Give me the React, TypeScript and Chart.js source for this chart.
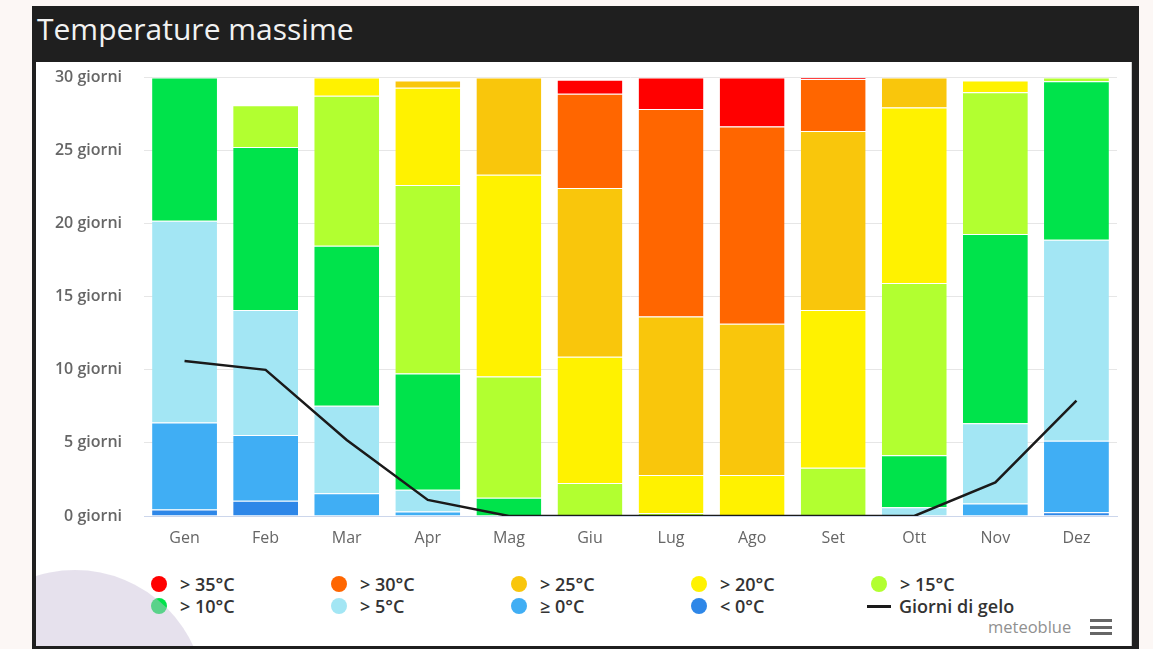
import React, { useEffect, useRef } from "react";
import { Chart, registerables } from "chart.js";

Chart.register(...registerables);

// ---- data ----
const months = ["Gen", "Feb", "Mar", "Apr", "Mag", "Giu", "Lug", "Ago", "Set", "Ott", "Nov", "Dez"];
const yMax = 30;
const yStep = 5;
const yUnit = "giorni";

const gt35 = [0, 0, 0, 0, 0, 0.95, 2.15, 3.35, 0.1, 0, 0, 0];
const gt30 = [0, 0, 0, 0, 0, 6.45, 14.2, 13.5, 3.55, 0, 0, 0];
const gt25 = [0, 0, 0, 0.5, 6.65, 11.55, 10.85, 10.35, 12.25, 2.05, 0, 0];
const gt20 = [0, 0, 1.25, 6.65, 13.8, 8.65, 2.6, 2.8, 10.8, 12.0, 0.8, 0];
const gt15 = [0, 2.85, 10.25, 12.9, 8.3, 2.25, 0.2, 0, 3.3, 11.8, 9.7, 0.25];
const gt10 = [9.8, 11.15, 10.95, 7.95, 1.25, 0, 0, 0, 0, 3.55, 12.95, 10.85];
const gt5 = [13.8, 8.55, 6.0, 1.5, 0, 0, 0, 0, 0, 0.6, 5.5, 13.75];
const ge0 = [5.95, 4.5, 1.55, 0.3, 0, 0, 0, 0, 0, 0, 0.85, 4.9];
const lt0 = [0.45, 1.05, 0, 0, 0, 0, 0, 0, 0, 0, 0, 0.25];
const frostDays = [10.6, 10.0, 5.2, 1.1, 0, 0, 0, 0, 0, 0, 2.3, 7.9];

const bandLabels = ["> 35°C", "> 30°C", "> 25°C", "> 20°C", "> 15°C", "> 10°C", "> 5°C", "≥ 0°C", "< 0°C"];
const bandColors = ["#ff0000", "#ff6600", "#f9c60c", "#fff200", "#b2ff30", "#00e34b", "#a3e6f4", "#40aef4", "#2e87e8"];
const bandData = [gt35, gt30, gt25, gt20, gt15, gt10, gt5, ge0, lt0];
const frostLabel = "Giorni di gelo";
const frostColor = "#1a1a1a";

const FONT = "'Open Sans', 'Noto Sans', sans-serif";

export default function App() {
  const canvasRef = useRef<HTMLCanvasElement | null>(null);

  useEffect(() => {
    const canvas = canvasRef.current;
    if (!canvas) return;
    const barSets = bandLabels
      .map((label, i) => ({
        type: "bar" as const,
        label,
        data: bandData[i],
        backgroundColor: bandColors[i],
        borderColor: "#ffffff",
        borderWidth: { top: 1, left: 0, right: 0, bottom: 0 },
        stack: "bands",
        order: 1,
        categoryPercentage: 1,
        barPercentage: 0.8,
      }))
      .reverse();
    const chart = new Chart(canvas, {
      type: "bar",
      data: {
        labels: months,
        datasets: [
          ...barSets,
          {
            type: "line" as const,
            label: frostLabel,
            data: frostDays,
            borderColor: frostColor,
            backgroundColor: frostColor,
            borderWidth: 2.5,
            pointRadius: 0,
            tension: 0,
            stack: "frost",
            order: 0,
          } as any,
        ],
      },
      options: {
        responsive: false,
        animation: false,
        maintainAspectRatio: false,
        layout: { padding: { top: 14, right: 15, left: 0, bottom: 0 } },
        plugins: { legend: { display: false }, tooltip: { enabled: false }, title: { display: false } },
        scales: {
          x: {
            stacked: true,
            grid: { display: false, drawTicks: false },
            border: { display: true, color: "#ccd6eb", width: 1 },
            ticks: { color: "#666666", font: { family: FONT, size: 16 }, padding: 13 },
            afterFit: (s: any) => {
              s.height = 46;
            },
          },
          y: {
            stacked: true,
            min: 0,
            max: yMax,
            grid: {
              color: (c: any) => (c.tick && c.tick.value === 0 ? "#ccd6eb" : "#e6e6e6"),
              lineWidth: 1,
              drawTicks: false,
            },
            border: { display: false },
            ticks: {
              stepSize: yStep,
              color: "#666666",
              font: { family: FONT, size: 16, weight: "600" },
              padding: 22,
              callback: (v: any) => `${v} ${yUnit}`,
            },
            afterFit: (s: any) => {
              s.width = 108;
            },
          },
        },
      },
    } as any);
    return () => chart.destroy();
  }, []);

  const legendItems = [
    ...bandLabels.map((l, i) => ({ label: l, color: bandColors[i], line: false })),
    { label: frostLabel, color: frostColor, line: true },
  ];

  return (
    <div style={{ position: "fixed", left: 0, top: 0, width: 1153, height: 649, background: "#fcf7f5", overflow: "hidden", fontFamily: FONT }}>
      <div style={{ position: "absolute", left: 32, top: 6, width: 1107, height: 643, background: "#1f1f1f" }} />
      <div style={{ position: "absolute", left: 37, top: 9, color: "#f2f2f2", fontSize: 30, lineHeight: "40px", whiteSpace: "nowrap" }}>
        Temperature massime
      </div>
      <div style={{ position: "absolute", left: 36, top: 62, width: 1096, height: 584, background: "#ffffff", overflow: "hidden", boxShadow: "inset -1px 0 0 #cfcfcf" }}>
        <canvas ref={canvasRef} width={1096} height={516} style={{ position: "absolute", left: 0, top: -16, width: 1096, height: 516 }} />
        {legendItems.map((it, i) => {
          const col = i % 5;
          const row = Math.floor(i / 5);
          const cx = 159 + 180 * col - 36;
          const cy = 584 + 22 * row - 62;
          return (
            <div key={it.label} style={{ position: "absolute", left: cx - 12, top: cy - 12, height: 24, display: "flex", alignItems: "center", whiteSpace: "nowrap" }}>
              {it.line ? (
                <div style={{ width: 24, height: 3, background: it.color, marginLeft: 0, marginRight: 8 }} />
              ) : (
                <div style={{ width: 16, height: 16, borderRadius: 8, background: it.color, marginLeft: 4, marginRight: 13 }} />
              )}
              <span style={{ fontSize: 18, fontWeight: 600, color: "#333333", lineHeight: "24px" }}>{it.label}</span>
            </div>
          );
        })}
        <div style={{ position: "absolute", left: 988 - 36, top: 616 - 62, fontSize: 16.5, color: "#909090", lineHeight: "22px" }}>meteoblue</div>
        <div style={{ position: "absolute", left: 1090 - 36, top: 619 - 62, width: 22 }}>
          <div style={{ height: 3, background: "#666", marginBottom: 3.5 }} />
          <div style={{ height: 3, background: "#666", marginBottom: 3.5 }} />
          <div style={{ height: 3, background: "#666" }} />
        </div>
        <div style={{ position: "absolute", left: 75 - 130 - 36, top: 700 - 130 - 62, width: 260, height: 260, borderRadius: 130, background: "rgba(200,188,215,0.45)", pointerEvents: "none" }} />
      </div>
    </div>
  );
}
